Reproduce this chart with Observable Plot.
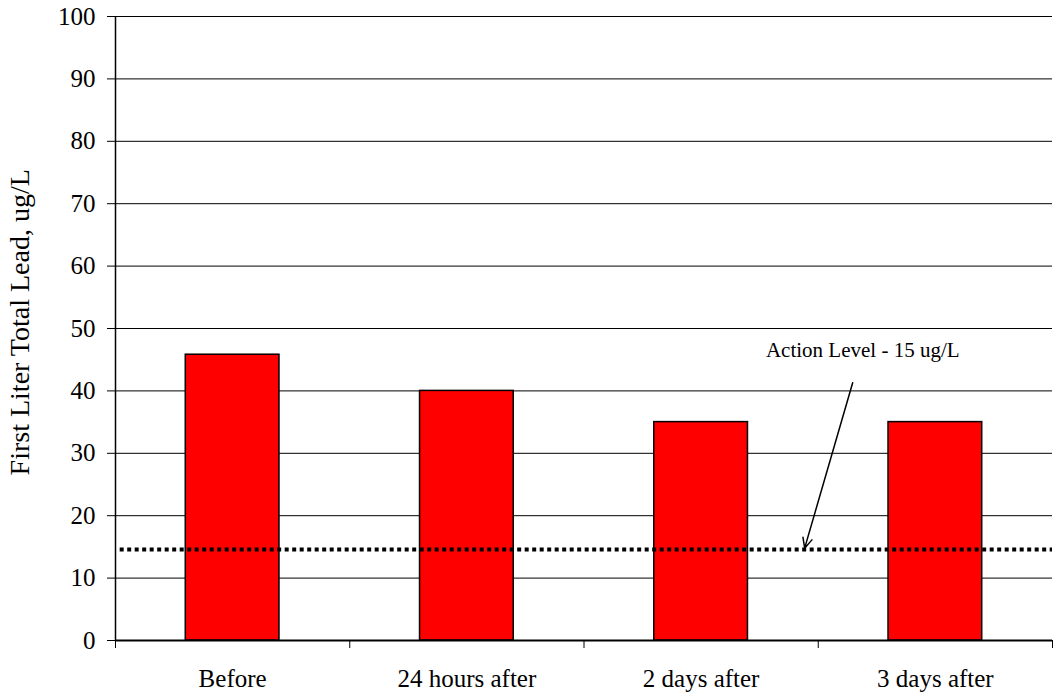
<!DOCTYPE html>
<html>
<head>
<meta charset="utf-8">
<script src="https://cdn.jsdelivr.net/npm/d3@7"></script>
<script src="https://cdn.jsdelivr.net/npm/@observablehq/plot@0.6"></script>
<style>
  html, body { margin: 0; padding: 0; background: #fff; }
  svg { font-family: "Liberation Serif", "DejaVu Serif", serif; }
</style>
</head>
<body>
<div id="chart"></div>
<script>
const categories = ["Before", "24 hours after", "2 days after", "3 days after"];
const leadValues = [45.8, 40, 35, 35];
const yTicks = [0, 10, 20, 30, 40, 50, 60, 70, 80, 90, 100];
const actionLevel = 14.6;
const actionLabel = "Action Level - 15 ug/L";
const yLabel = "First Liter Total Lead, ug/L";

const bars = categories.map((c, i) => ({idx: i, cat: c, value: leadValues[i]}));

const chart = Plot.plot({
  width: 1056,
  height: 698,
  marginLeft: 115,
  marginRight: 4,
  marginTop: 16,
  marginBottom: 58,
  style: {fontFamily: "Liberation Serif, serif", fontSize: "25px", color: "#000", background: "#fff"},
  x: {domain: [0, categories.length]},
  y: {domain: [0, 100]},
  marks: [
    Plot.ruleY(yTicks.filter(d => d > 0), {stroke: "#000", strokeWidth: 1}),
    Plot.rectY(bars, {x1: d => d.idx + 0.3, x2: d => d.idx + 0.7, y1: 0, y2: "value", fill: "#ff0000", stroke: "#000", strokeWidth: 1.5}),
    Plot.ruleY([actionLevel], {x1: 0.02, x2: categories.length, stroke: "#000", strokeWidth: 4, strokeDasharray: "4,3.5"}),
    Plot.arrow([{x1: 3.147, y1: 41.3, x2: 2.942, y2: actionLevel + 0.2}], {x1: "x1", y1: "y1", x2: "x2", y2: "y2", stroke: "#000", strokeWidth: 1.5, headLength: 11, headAngle: 50, bend: 0}),
    Plot.text([actionLabel], {x: 3.19, y: 46.5, text: d => d, fontSize: 21, fill: "#000"}),
    Plot.ruleX([0], {stroke: "#000", strokeWidth: 1.5}),
    Plot.ruleY([0], {stroke: "#000", strokeWidth: 2}),
    Plot.axisY({ticks: yTicks, tickSize: 8, tickPadding: 12, fontSize: 25, label: null, anchor: "left"}),
    Plot.text([yLabel], {x: 0, y: 51, dx: -95, rotate: -90, fontSize: 28, fill: "#000"}),
    Plot.axisX({ticks: d3.range(categories.length + 1), tickSize: 8, tickFormat: () => "", label: null}),
    Plot.axisX({ticks: categories.map((c, i) => i + 0.5), tickSize: 0, tickPadding: 29, tickFormat: (d) => categories[Math.floor(d)], fontSize: 25, label: null})
  ]
});
document.getElementById("chart").appendChild(chart);
</script>
</body>
</html>
